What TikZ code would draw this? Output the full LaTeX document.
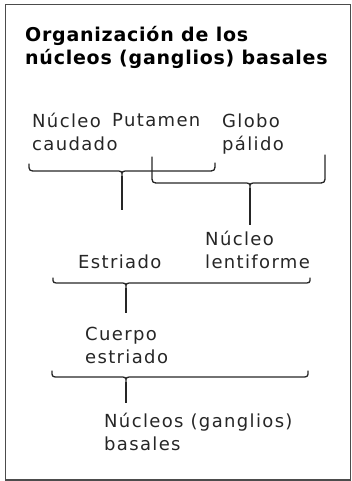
\documentclass[tikz,border=0pt]{standalone}
\usepackage{fontspec}
\setmainfont{DejaVu Sans}
\newfontfamily\lblfont[LetterSpace=7.5]{DejaVu Sans}
\newfontfamily\ttlfont[LetterSpace=4]{DejaVu Sans}
\begin{document}
\begin{tikzpicture}[x=1pt,y=-1pt,
  lbl/.style={anchor=base west,inner sep=0pt,text=black!85,font=\lblfont\fontsize{18}{23}\selectfont,align=left},
  ttl/.style={anchor=base west,inner sep=0pt,font=\ttlfont\bfseries\fontsize{19}{23}\selectfont,align=left},
  brace/.style={line width=1.3pt,line join=round,line cap=round,draw=black!85},
  stem/.style={line width=1.3pt,draw=black!85}]
\useasboundingbox (0,0) rectangle (352,481);
\draw[line width=1.5pt,draw=black!70] (5.5,4.5) rectangle (350.5,480);
\node[ttl] (title) at (25,65) {Organización de los\\núcleos (ganglios) basales};
\node[lbl] (caud) at (32,150) {Núcleo\\caudado};
\node[lbl] (put) at (112,127) {Putamen};
\node[lbl] (glob) at (222,150) {Globo\\pálido};
\node[lbl] (estr) at (78,268) {Estriado};
\node[lbl] (lent) at (205,268) {Núcleo\\lentiforme};
\node[lbl] (cuer) at (85,363) {Cuerpo\\estriado};
\node[lbl] (bas) at (104,450) {Núcleos (ganglios)\\basales};
% brace 1
\coordinate (t1) at (122,176);
\coordinate (e1) at (122,210);
\draw[brace] (29,164) .. controls (29,171) .. (37,171) -- (115,171) .. controls (122,171) .. (t1) .. controls (122,171) .. (129,171) -- (207,171) .. controls (215,171) .. (215,163);
\draw[stem] (t1) -- (e1);
% brace 2
\coordinate (t2) at (250,188);
\coordinate (e2) at (250,225);
\draw[brace] (152,157) -- (152,175) .. controls (152,183) .. (160,183) -- (243,183) .. controls (250,183) .. (t2) .. controls (250,183) .. (257,183) -- (317,183) .. controls (325,183) .. (325,175) -- (325,155);
\draw[stem] (t2) -- (e2);
% brace 3
\coordinate (t3) at (126,288);
\coordinate (e3) at (126,313);
\draw[brace] (53,278) .. controls (53,283) .. (60,283) -- (119,283) .. controls (126,283) .. (t3) .. controls (126,283) .. (133,283) -- (303,283) .. controls (310,283) .. (310,278);
\draw[stem] (t3) -- (e3);
% brace 4
\coordinate (t4) at (126,382);
\coordinate (e4) at (126,403);
\draw[brace] (52,371) .. controls (52,377) .. (59,377) -- (119,377) .. controls (126,377) .. (t4) .. controls (126,377) .. (133,377) -- (301,377) .. controls (308,377) .. (308,371);
\draw[stem] (t4) -- (e4);
\end{tikzpicture}
\end{document}
